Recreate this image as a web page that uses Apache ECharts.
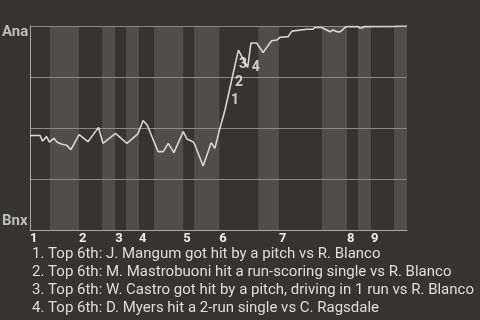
<!DOCTYPE html>
<html>
<head>
<meta charset="utf-8">
<script src="https://cdn.jsdelivr.net/npm/echarts@6/dist/echarts.min.js"></script>
<style>
html,body{margin:0;padding:0;background:#353430;}
#chart{width:480px;height:320px;}
</style>
</head>
<body>
<div id="chart"></div>
<script>
// ---- data ----
const teamTop = 'Ana';
const teamBottom = 'Bnx';
const innings = ['1','2','3','4','5','6','7','8','9'];
// half-inning boundaries in plate-appearance units
const halfInningBounds = [0, 4.9, 12.1, 17.8, 21.0, 23.7, 26.9, 30.6, 37.8, 40.5, 46.7, 56.3, 61.4, 72.0, 78.2, 80.9, 84.1, 89.8, 93.0];
// win probability line for Ana (0 = Bnx, 1 = Ana)
const wpX = [0, 2.5, 3.1, 4.1, 4.8, 5.9, 6.7, 7.9, 9.1, 10.1, 12.1, 14.3, 16.9, 18.0, 21.1, 23.9, 26.6, 27.9, 28.9, 31.6, 32.9, 34.1, 35.5, 37.8, 38.7, 40.2, 40.7, 42.7, 44.7, 45.6, 46.6, 48.1, 51.4, 53.7, 54.5, 55.9, 57.5, 59.6, 60.9, 61.7, 63.7, 64.6, 68.3, 69.8, 70.3, 71.8, 72.3, 73.2, 74.0, 74.8, 75.7, 76.5, 77.0, 77.7, 78.2, 80.9, 81.4, 81.9, 82.4, 89.8, 92.7, 93.0];
const wpY = [0.463, 0.463, 0.436, 0.458, 0.431, 0.450, 0.430, 0.420, 0.415, 0.394, 0.467, 0.433, 0.503, 0.425, 0.474, 0.425, 0.471, 0.537, 0.515, 0.384, 0.384, 0.425, 0.379, 0.482, 0.446, 0.433, 0.417, 0.314, 0.428, 0.400, 0.480, 0.588, 0.882, 0.797, 0.917, 0.917, 0.870, 0.928, 0.931, 0.945, 0.948, 0.975, 0.984, 0.984, 0.993, 0.993, 0.989, 0.980, 0.972, 0.980, 0.972, 0.971, 0.980, 0.993, 0.997, 0.997, 0.990, 0.990, 0.997, 0.998, 1.0, 1.0];
// key events
const eventX = [48.6, 49.6, 50.6, 53.7];
const eventY = [0.637, 0.725, 0.809, 0.797];
const eventLabels = ['1','2','3','4'];
const plays = [
  '1. Top 6th: J. Mangum got hit by a pitch vs R. Blanco',
  '2. Top 6th: M. Mastrobuoni hit a run-scoring single vs R. Blanco',
  '3. Top 6th: W. Castro got hit by a pitch, driving in 1 run vs R. Blanco',
  '4. Top 6th: D. Myers hit a 2-run single vs C. Ragsdale'
];
const yTicks = [0, 0.25, 0.5, 0.75, 1];

// ---- derived ----
const inningStarts = innings.map((_, i) => halfInningBounds[i * 2]);
const bottomBands = innings.map((_, i) => [halfInningBounds[i * 2 + 1], halfInningBounds[i * 2 + 2]]);
const wpData = wpX.map((x, i) => [x, wpY[i]]);
const eventData = eventX.map((x, i) => [x, eventY[i]]);

const chart = echarts.init(document.getElementById('chart'), null, {renderer: 'canvas'});
const FONT = 'Roboto';
const option = {
  backgroundColor: '#353430',
  animation: false,
  grid: {left: 30, top: 26, width: 377, height: 204, containLabel: false},
  xAxis: {
    type: 'value', min: 0, max: halfInningBounds[halfInningBounds.length - 1],
    axisLine: {show: true, lineStyle: {color: '#a9a9a7', width: 1}},
    axisTick: {show: false},
    splitLine: {show: false},
    axisLabel: {
      customValues: inningStarts,
      formatter: (v) => { const i = inningStarts.indexOf(v); return i >= 0 ? innings[i] : ''; },
      align: 'left', margin: 2, color: '#eeeeee', fontFamily: FONT, fontWeight: 'bold', fontSize: 13,
      showMinLabel: true, showMaxLabel: true
    }
  },
  yAxis: {
    type: 'value', min: yTicks[0], max: yTicks[yTicks.length - 1], interval: 0.25,
    axisLine: {show: true, lineStyle: {color: '#a9a9a7', width: 1}},
    axisTick: {show: false},
    axisLabel: {show: false},
    splitLine: {show: true, lineStyle: {color: '#8a8a88', width: 1}}
  },
  graphic: [
    {type: 'text', left: 2, top: 25, style: {text: teamTop, fill: '#bdbdbb', font: 'bold 15px ' + FONT}},
    {type: 'text', left: 2, top: 214, style: {text: teamBottom, fill: '#bdbdbb', font: 'bold 15px ' + FONT}},
    {type: 'group', left: 32, top: 247, children: plays.map((t, i) => ({
      type: 'text', x: 0, y: i * 17.8, style: {text: t, fill: '#dedede', font: '15px ' + FONT}
    }))}
  ],
  series: [
    {
      type: 'custom', z: -1, silent: true,
      data: bottomBands,
      encode: {x: [0, 1]},
      renderItem: (params, api) => {
        const p0 = api.coord([api.value(0), 1]);
        const p1 = api.coord([api.value(1), 0]);
        return {type: 'rect', shape: {x: p0[0], y: p0[1], width: p1[0] - p0[0], height: p1[1] - p0[1]}, style: {fill: '#4f4e4c'}};
      }
    },
    {
      type: 'line', data: wpData, showSymbol: false, symbol: 'none',
      lineStyle: {color: '#d6d6d4', width: 1.6}, z: 3
    },
    {
      type: 'scatter', data: eventData, symbolSize: 0, z: 4,
      label: {show: true, position: 'right', distance: 4, formatter: (p) => eventLabels[p.dataIndex],
        color: '#f2f2f2', fontFamily: FONT, fontWeight: 'bold', fontSize: 14}
    }
  ]
};
chart.setOption(option);
</script>
</body>
</html>
